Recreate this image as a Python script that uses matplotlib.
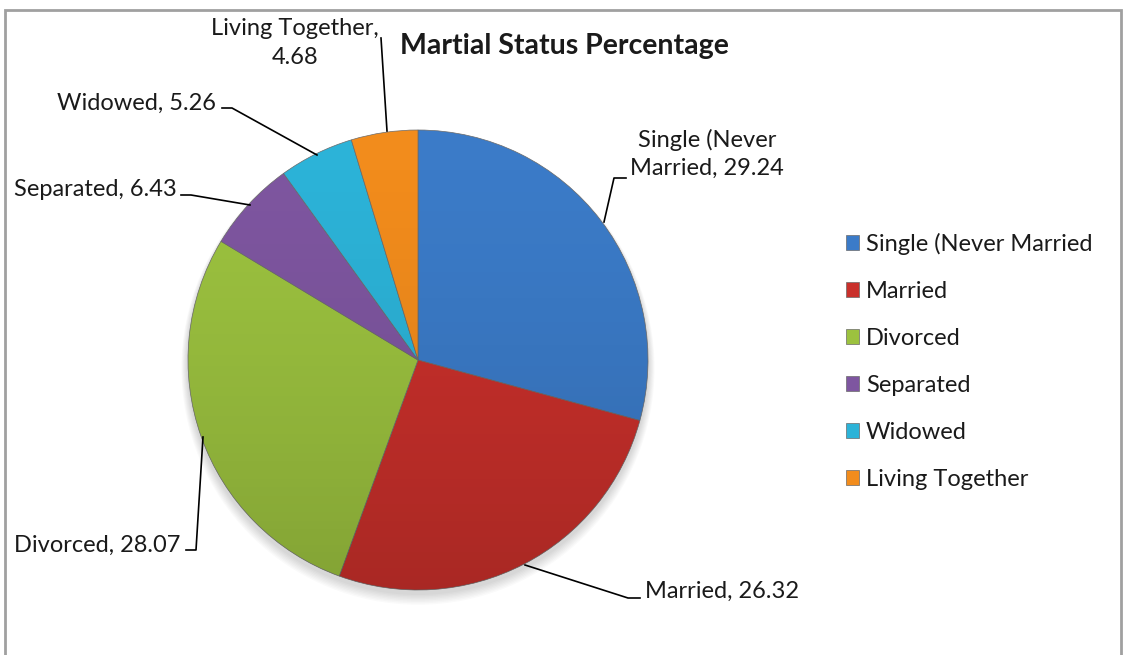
import numpy as np
import matplotlib.pyplot as plt
from matplotlib.patches import Rectangle, Circle

# Dados do gráfico
categorias = ['Single (Never Married', 'Married', 'Divorced', 'Separated', 'Widowed', 'Living Together']
valores = [29.24, 26.32, 28.07, 6.43, 5.26, 4.68]
cores = ['#3b7bc8', '#c9302b', '#9cc23f', '#7e56a0', '#2cb3d8', '#f28c1c']
rotulos = ['Single (Never\nMarried, 29.24', 'Married, 26.32', 'Divorced, 28.07',
           'Separated, 6.43', 'Widowed, 5.26', 'Living Together,\n4.68']

plt.rcParams['font.family'] = ['Lato', 'DejaVu Sans']

W, H = 1125, 655
fig = plt.figure(figsize=(W / 100, H / 100), dpi=100)
ax = fig.add_axes([0, 0, 1, 1])

# centro e raio em pixels (y de baixo para cima)
cx, cy, r = 418, H - 360, 230

# sombra leve embaixo da pizza
for k in range(8):
    ax.add_patch(Circle((cx, cy - 4 - k * 0.6), r + 1 + k * 0.8,
                        color='black', alpha=0.018, lw=0, zorder=0))

wedges, _ = ax.pie(valores, colors=cores, startangle=90, counterclock=False,
                   center=(cx, cy), radius=r,
                   wedgeprops=dict(edgecolor='#6a6a6a', linewidth=0.5))
for w in wedges:
    w.set_zorder(2)

# sombreamento vertical por cima da pizza (efeito de relevo)
grad = np.linspace(0, 1, 256).reshape(-1, 1)
sombra = np.zeros((256, 1, 4))
sombra[..., 3] = 0.16 * grad ** 1.5
img = ax.imshow(sombra, extent=(cx - r, cx + r, cy - r, cy + r), origin='upper',
                aspect='auto', zorder=2.5, interpolation='bilinear')
clip = Circle((cx, cy), r, transform=ax.transData)
img.set_clip_path(clip)

ax.set_xlim(0, W)
ax.set_ylim(0, H)
ax.set_aspect('auto')
ax.axis('off')

# moldura cinza
ax.add_patch(Rectangle((5, -10), 1116, H - 5 + 10 - 5, fill=False,
                       edgecolor='#a0a0a0', linewidth=2.0, zorder=5))

# título
ax.text(564, H - 46, 'Martial Status Percentage', fontsize=20.5, fontweight='bold',
        ha='center', va='center', color='#1a1a1a')

# linhas guia (em pixels da imagem: y de cima para baixo)
guias = [
    [(604, 222), (614, 178), (626, 178)],
    [(525, 565), (628, 598), (640, 598)],
    [(203, 437), (196, 550), (186, 550)],
    [(250, 205), (191, 195), (181, 195)],
    [(317, 155), (232, 108), (222, 108)],
    [(387, 131), (381, 38)],
]
for pts in guias:
    xs = [p[0] for p in pts]
    ys = [H - p[1] for p in pts]
    ax.plot(xs, ys, color='black', linewidth=1.2, zorder=3)

pos_rotulos = [
    (707, 154, 'center'),
    (645, 591, 'left'),
    (14, 545, 'left'),
    (14, 190, 'left'),
    (57, 103, 'left'),
    (295, 43, 'center'),
]
for txt, (x, y, ha) in zip(rotulos, pos_rotulos):
    ax.text(x, H - y, txt, fontsize=17, ha=ha, va='center', color='#1a1a1a',
            linespacing=1.42, multialignment='center')

# legenda
leg = ax.legend(wedges, categorias, loc='upper left',
                bbox_to_anchor=(834 / W, (H - 221) / H), frameon=False,
                fontsize=17, handlelength=0.55, handleheight=0.55,
                handletextpad=0.3, labelspacing=1.1, borderpad=0)
for t in leg.get_texts():
    t.set_color('#1a1a1a')

plt.savefig('out.png', dpi=100)
